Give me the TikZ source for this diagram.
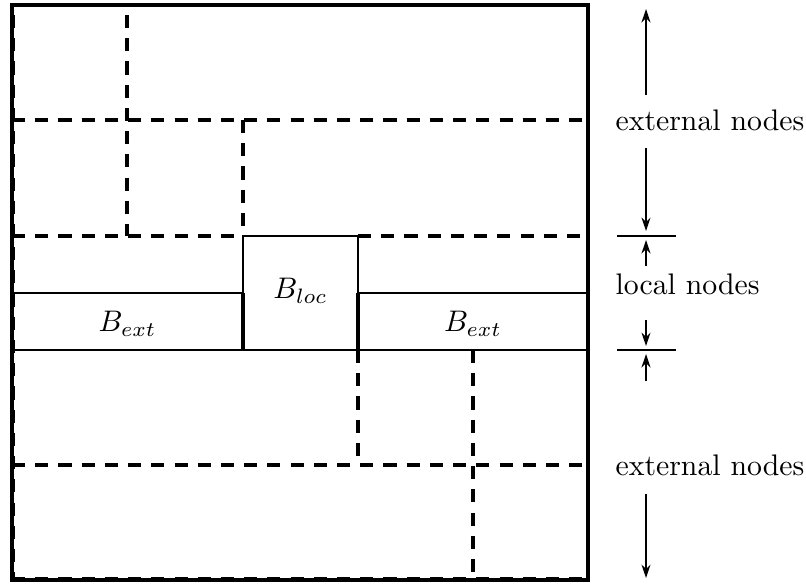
\documentclass[tikz,border=0pt]{standalone}
\usetikzlibrary{arrows.meta}
\begin{document}
\begin{tikzpicture}[x=0.336pt,y=-0.336pt,
  outer/.style={line width=1.1pt},
  sline/.style={line width=0.8pt},
  dline/.style={line width=1.1pt,dash pattern=on 4.4pt off 3.4pt},
  arr/.style={line width=0.6pt,-{Stealth[length=4.5pt,width=3pt]}},
  tickln/.style={line width=0.8pt},
  lbl/.style={anchor=west,inner sep=0pt}]
\useasboundingbox (0,0) rectangle (806,583);
% dashed partition lines
\draw[dline] (12,120) -- (588,120);
\draw[dline] (12,236) -- (243,236);
\draw[dline] (358,236) -- (588,236);
\draw[dline] (127,15) -- (127,236);
\draw[dline] (243,120) -- (243,236);
\draw[dline] (358,350) -- (358,465);
\draw[dline] (12,465) -- (588,465);
\draw[dline] (473,350) -- (473,580);
\draw[dline,line width=1.6pt] (13,15) -- (13,580);
\draw[dline,line width=1.6pt] (12,579) -- (588,579);
% solid blocks
\draw[outer] (12,5) rectangle (588,580);
\draw[sline] (243,236) rectangle (358,350);
\draw[sline] (12,293) -- (243,293);
\draw[sline] (358,293) -- (588,293);
\draw[sline] (12,350) -- (588,350);
\draw[line width=1.1pt] (243,293) -- (243,350);
\draw[line width=1.1pt] (358,293) -- (358,350);
\node (bextl) at (127.5,324) {$B_{ext}$};
\node (blocl) at (300.5,291) {$B_{loc}$};
\node (bextr) at (473,324) {$B_{ext}$};
% right-hand annotation
\node[lbl] (ext1) at (615,120) {external nodes};
\node[lbl] (loc) at (615,284) {local nodes};
\node[lbl] (ext2) at (615,465) {external nodes};
\coordinate (a1s) at (646,95);  \coordinate (a1e) at (646,9);
\coordinate (a2s) at (646,148); \coordinate (a2e) at (646,231);
\coordinate (a3s) at (646,266); \coordinate (a3e) at (646,240);
\coordinate (a4s) at (646,320); \coordinate (a4e) at (646,346);
\coordinate (a5s) at (646,381); \coordinate (a5e) at (646,354);
\coordinate (a6s) at (646,494); \coordinate (a6e) at (646,578);
\draw[arr] (a1s) -- (a1e);
\draw[arr] (a2s) -- (a2e);
\draw[arr] (a3s) -- (a3e);
\draw[arr] (a4s) -- (a4e);
\draw[arr] (a5s) -- (a5e);
\draw[arr] (a6s) -- (a6e);
\coordinate (t1a) at (617,236); \coordinate (t1b) at (676,236);
\coordinate (t2a) at (617,350); \coordinate (t2b) at (676,350);
\draw[tickln] (t1a) -- (t1b);
\draw[tickln] (t2a) -- (t2b);
\end{tikzpicture}
\end{document}
